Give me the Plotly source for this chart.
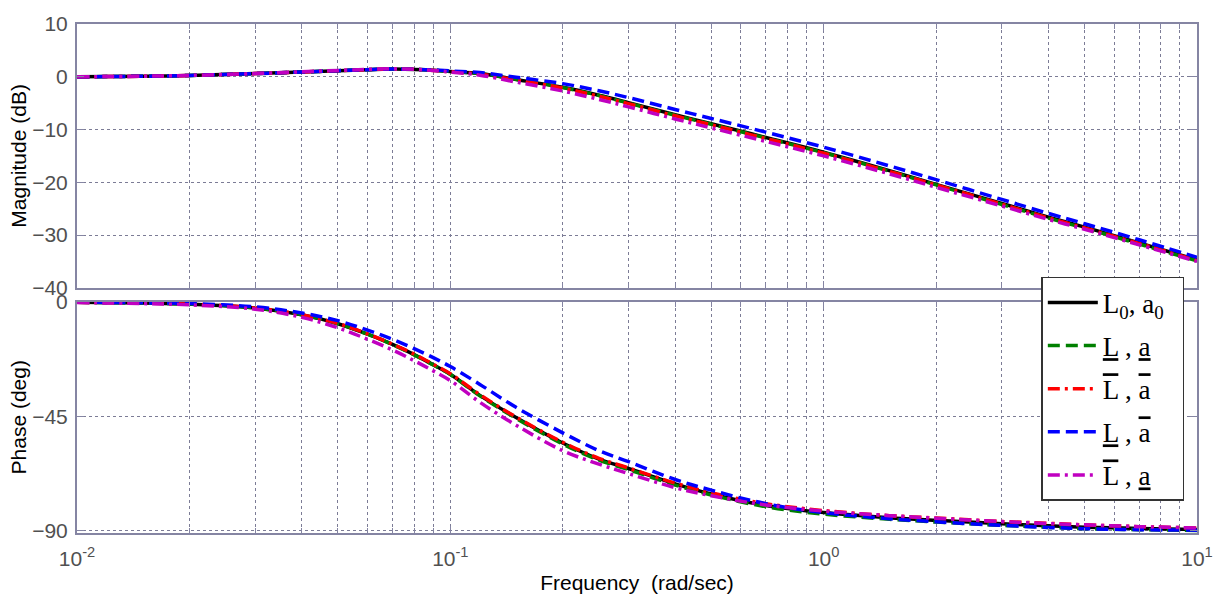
import plotly.graph_objects as go

# Frequency points (rad/sec)
freq = [0.01, 0.015, 0.02, 0.03, 0.04, 0.05, 0.06, 0.07, 0.08, 0.09, 0.1, 0.12, 0.15,
        0.2, 0.25, 0.3, 0.4, 0.5, 0.7, 1.0, 1.5, 2.0, 3.0, 4.0, 5.0, 7.0, 10.0]

# Magnitude (dB)
mag_nom = [0.0, 0.1, 0.25, 0.6, 0.9, 1.15, 1.35, 1.45, 1.4, 1.25, 1.0, 0.6, -0.5,
           -2.0, -3.5, -4.9, -7.2, -8.9, -11.5, -14.3, -17.8, -20.4, -24.0, -26.6, -28.5, -31.5, -34.7]
mag_lo_lo = [0.0, 0.1, 0.25, 0.6, 0.9, 1.15, 1.35, 1.45, 1.4, 1.25, 1.0, 0.6, -0.5,
             -2.05, -3.55, -5.0, -7.3, -9.0, -11.6, -14.4, -17.9, -20.5, -24.2, -26.8, -28.7, -31.7, -34.9]
mag_hi_hi = [0.0, 0.1, 0.25, 0.6, 0.9, 1.15, 1.35, 1.45, 1.4, 1.2, 0.95, 0.5, -0.6,
             -2.15, -3.7, -5.1, -7.4, -9.1, -11.7, -14.5, -17.95, -20.5, -24.15, -26.75, -28.65, -31.6, -34.8]
mag_lo_hi = [0.0, 0.1, 0.25, 0.6, 0.9, 1.15, 1.35, 1.45, 1.4, 1.3, 1.1, 0.8, -0.1,
             -1.3, -2.65, -3.95, -6.2, -7.9, -10.5, -13.35, -16.9, -19.5, -23.25, -25.9, -27.85, -30.9, -34.2]
mag_hi_lo = [0.0, 0.1, 0.25, 0.6, 0.95, 1.2, 1.4, 1.5, 1.4, 1.2, 0.9, 0.3, -1.0,
             -2.7, -4.3, -5.7, -8.0, -9.7, -12.25, -15.0, -18.4, -20.95, -24.5, -27.05, -28.9, -31.85, -35.0]

# Phase (deg)
ph_nom = [-0.3, -0.6, -1.0, -2.5, -5.2, -8.7, -12.8, -16.8, -20.8, -24.8, -28.5, -36.8, -45.5,
          -55.5, -61.8, -65.5, -71.5, -75.5, -80.0, -82.8, -84.8, -85.8, -87.2, -88.0, -88.5, -89.0, -89.4]
ph_lo_lo = [-0.3, -0.6, -1.0, -2.5, -5.2, -8.7, -12.8, -16.9, -20.9, -24.9, -28.6, -37.0, -45.8,
            -55.9, -62.2, -65.9, -72.0, -75.9, -80.5, -83.4, -85.4, -86.5, -87.8, -88.6, -89.1, -89.5, -89.8]
ph_hi_hi = [-0.3, -0.6, -1.0, -2.5, -5.2, -8.6, -12.7, -16.7, -20.6, -24.6, -28.3, -36.5, -45.3,
            -55.2, -61.5, -65.3, -71.2, -75.0, -79.3, -82.0, -84.0, -84.9, -86.3, -87.0, -87.6, -88.3, -88.8]
ph_lo_hi = [-0.2, -0.5, -0.8, -2.1, -4.5, -7.5, -11.2, -14.8, -18.5, -22.0, -25.5, -32.5, -41.5,
            -51.5, -58.5, -62.8, -69.8, -74.0, -79.3, -82.8, -85.2, -86.4, -87.8, -88.6, -89.1, -89.5, -89.7]
ph_hi_lo = [-0.4, -0.8, -1.3, -3.0, -6.2, -10.3, -14.8, -19.0, -23.2, -27.2, -31.0, -39.5, -48.5,
            -58.5, -63.8, -67.5, -73.0, -76.2, -79.8, -82.2, -84.0, -85.0, -86.3, -87.1, -87.6, -88.3, -88.8]

# Decade tick labels
x_tickvals = [0.01, 0.1, 1, 10]
x_ticktext = ["10<sup>-2</sup>", "10<sup>-1</sup>", "10<sup>0</sup>", "10<sup>1</sup>"]

UL = "<span style='text-decoration:underline'>{}</span>"
OL = "<span style='text-decoration:overline'>{}</span>"
PAD = "\u00a0\u00a0"

series = [
    ("L<sub>0</sub>, a<sub>0</sub>" + PAD, mag_nom, ph_nom, "black", "solid"),
    (UL.format("L") + " , " + UL.format("a") + PAD, mag_lo_lo, ph_lo_lo, "green", "12px,6px"),
    (OL.format("L") + " , " + OL.format("a") + PAD, mag_hi_hi, ph_hi_hi, "red", "12px,5px,3px,5px"),
    (UL.format("L") + " , " + OL.format("a") + PAD, mag_lo_hi, ph_lo_hi, "blue", "12px,6px"),
    (OL.format("L") + " , " + UL.format("a") + PAD, mag_hi_lo, ph_hi_lo, "#c000c0", "12px,5px,3px,5px"),
]

fig = go.Figure()
for i, (name, mag, ph, color, dash) in enumerate(series):
    line = dict(color=color, width=3.5, dash=dash, shape="spline")
    fig.add_trace(go.Scatter(x=freq, y=mag, mode="lines", line=line, name=name,
                             legendgroup=f"g{i}", showlegend=False, xaxis="x", yaxis="y"))
    fig.add_trace(go.Scatter(x=freq, y=ph, mode="lines", line=line, name=name,
                             legendgroup=f"g{i}", showlegend=True, xaxis="x2", yaxis="y2"))

frame_col = "#8585a3"
grid_col = "#7c7c96"
tick_font = dict(family="Liberation Sans, Arial", size=21, color="#505050")
title_font = dict(family="Liberation Sans, Arial", size=21, color="black")

common_x = dict(type="log", range=[-2, 1], tickvals=x_tickvals, ticktext=x_ticktext,
                showline=True, linecolor=frame_col, linewidth=2, mirror="ticks",
                ticks="inside", ticklen=7, tickcolor=frame_col,
                showgrid=True, gridcolor=grid_col, griddash="3px,3px", gridwidth=1,
                zeroline=False, tickfont=tick_font,
                minor=dict(dtick="D1", showgrid=True, gridcolor=grid_col, griddash="3px,3px",
                           gridwidth=1, ticks="inside", ticklen=5, tickcolor=frame_col))

common_y = dict(showline=True, linecolor=frame_col, linewidth=2, mirror="ticks",
                ticks="inside", ticklen=7, tickcolor=frame_col, showgrid=True,
                gridcolor=grid_col, griddash="3px,3px", gridwidth=1, zeroline=False,
                tickfont=tick_font, ticklabelstandoff=3)

fig.update_layout(
    width=1225, height=603,
    margin=dict(l=77, r=26, t=16, b=68),
    paper_bgcolor="white", plot_bgcolor="white",
    xaxis=dict(common_x, anchor="y", showticklabels=False, matches="x2"),
    xaxis2=dict(common_x, anchor="y2", ticklabelstandoff=6,
                title=dict(text="Frequency\u00a0 (rad/sec)", font=title_font, standoff=6)),
    yaxis=dict(common_y, domain=[0.4817, 1.0], range=[-40, 10], dtick=10,
               title=dict(text="Magnitude (dB)", font=title_font, standoff=0)),
    yaxis2=dict(common_y, domain=[0.0, 0.4547], range=[-90.8, 0], tickvals=[0, -45, -90],
                title=dict(text="Phase (deg)", font=title_font, standoff=0)),
    legend=dict(x=0.861, y=0.503, xanchor="left", yanchor="top",
                bgcolor="white", bordercolor="#333333", borderwidth=1.5,
                font=dict(family="Liberation Serif, Times New Roman", size=27, color="black"),
                tracegroupgap=5, itemwidth=50),
    showlegend=True,
)

fig.write_html("out.html")
